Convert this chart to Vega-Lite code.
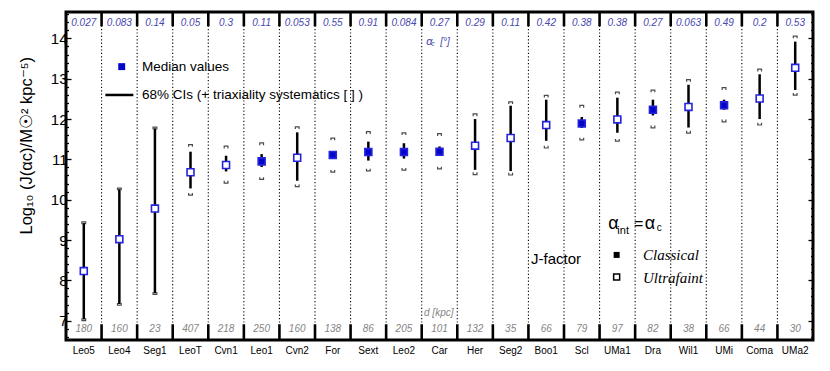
{
  "$schema": "https://vega.github.io/schema/vega-lite/v6.json",
  "width": 747,
  "height": 328,
  "autosize": {"type": "none"},
  "padding": {"left": 66, "top": 12, "right": 17, "bottom": 31},
  "config": {"view": {"stroke": "black", "strokeWidth": 3}, "font": "Liberation Sans"},
  "datasets": {
    "g": [
      {"name": "Leo5", "med": 8.23, "lo": 7.03, "hi": 9.42, "tlo": 7.03, "thi": 9.42, "type": "U", "ac": "0.027", "d": "180"},
      {"name": "Leo4", "med": 9.02, "lo": 7.41, "hi": 10.26, "tlo": 7.41, "thi": 10.26, "type": "U", "ac": "0.083", "d": "160"},
      {"name": "Seg1", "med": 9.78, "lo": 7.68, "hi": 11.77, "tlo": 7.68, "thi": 11.77, "type": "U", "ac": "0.14", "d": "23"},
      {"name": "LeoT", "med": 10.68, "lo": 10.28, "hi": 11.19, "tlo": 10.14, "thi": 11.34, "type": "U", "ac": "0.05", "d": "407"},
      {"name": "Cvn1", "med": 10.86, "lo": 10.70, "hi": 11.09, "tlo": 10.44, "thi": 11.30, "type": "U", "ac": "0.3", "d": "218"},
      {"name": "Leo1", "med": 10.95, "lo": 10.81, "hi": 11.13, "tlo": 10.53, "thi": 11.38, "type": "C", "ac": "0.11", "d": "250"},
      {"name": "Cvn2", "med": 11.04, "lo": 10.47, "hi": 11.67, "tlo": 10.35, "thi": 11.78, "type": "U", "ac": "0.053", "d": "160"},
      {"name": "For", "med": 11.11, "lo": 11.07, "hi": 11.15, "tlo": 10.71, "thi": 11.50, "type": "C", "ac": "0.55", "d": "138"},
      {"name": "Sext", "med": 11.18, "lo": 10.97, "hi": 11.44, "tlo": 10.74, "thi": 11.66, "type": "C", "ac": "0.91", "d": "86"},
      {"name": "Leo2", "med": 11.18, "lo": 11.02, "hi": 11.40, "tlo": 10.76, "thi": 11.63, "type": "C", "ac": "0.084", "d": "205"},
      {"name": "Car", "med": 11.19, "lo": 11.09, "hi": 11.32, "tlo": 10.79, "thi": 11.61, "type": "C", "ac": "0.27", "d": "101"},
      {"name": "Her", "med": 11.34, "lo": 10.74, "hi": 12.00, "tlo": 10.65, "thi": 12.10, "type": "U", "ac": "0.29", "d": "132"},
      {"name": "Seg2", "med": 11.53, "lo": 10.71, "hi": 12.33, "tlo": 10.64, "thi": 12.40, "type": "U", "ac": "0.11", "d": "35"},
      {"name": "Boo1", "med": 11.85, "lo": 11.46, "hi": 12.48, "tlo": 11.31, "thi": 12.56, "type": "U", "ac": "0.42", "d": "66"},
      {"name": "Scl", "med": 11.89, "lo": 11.78, "hi": 12.05, "tlo": 11.51, "thi": 12.31, "type": "C", "ac": "0.38", "d": "79"},
      {"name": "UMa1", "med": 11.99, "lo": 11.66, "hi": 12.53, "tlo": 11.48, "thi": 12.64, "type": "U", "ac": "0.38", "d": "97"},
      {"name": "Dra", "med": 12.23, "lo": 12.09, "hi": 12.48, "tlo": 11.81, "thi": 12.69, "type": "C", "ac": "0.27", "d": "82"},
      {"name": "Wil1", "med": 12.30, "lo": 11.79, "hi": 12.85, "tlo": 11.68, "thi": 12.95, "type": "U", "ac": "0.063", "d": "38"},
      {"name": "UMi", "med": 12.34, "lo": 12.23, "hi": 12.48, "tlo": 11.96, "thi": 12.75, "type": "C", "ac": "0.49", "d": "66"},
      {"name": "Coma", "med": 12.51, "lo": 12.00, "hi": 13.11, "tlo": 11.88, "thi": 13.21, "type": "U", "ac": "0.2", "d": "44"},
      {"name": "UMa2", "med": 13.27, "lo": 12.72, "hi": 13.92, "tlo": 12.62, "thi": 14.03, "type": "U", "ac": "0.53", "d": "30"}
    ]
  },
  "data": {"name": "g"},
  "resolve": {"axis": {"y": "independent"}},
  "layer": [
    {
      "transform": [{"filter": "datum.name !== 'Leo5'"}],
      "mark": {"type": "rule", "strokeDash": [1.2, 2.2], "strokeWidth": 1.1, "color": "black"},
      "encoding": {
        "x": {
          "field": "name", "type": "nominal", "bandPosition": 0, "sort": null,
          "scale": {"type": "band", "paddingInner": 0, "paddingOuter": 0,
            "domain": ["Leo5","Leo4","Seg1","LeoT","Cvn1","Leo1","Cvn2","For","Sext","Leo2","Car","Her","Seg2","Boo1","Scl","UMa1","Dra","Wil1","UMi","Coma","UMa2"]},
          "axis": {"title": null, "ticks": false, "domain": false, "labelAngle": 0, "labelFontSize": 10, "labelPadding": 5, "labelColor": "black", "labelFont": "Liberation Sans"}
        }
      }
    },
    {
      "transform": [{"filter": "datum.name !== 'Leo5'"}],
      "mark": {"type": "rule", "strokeWidth": 2.6, "color": "black"},
      "encoding": {
        "x": {"field": "name", "type": "nominal", "bandPosition": 0},
        "y": {"datum": 14.655, "type": "quantitative",
          "axis": {"orient": "right", "title": null, "labels": false, "domain": false, "grid": false,
            "values": [6.6,6.8,7,7.2,7.4,7.6,7.8,8,8.2,8.4,8.6,8.8,9,9.2,9.4,9.6,9.8,10,10.2,10.4,10.6,10.8,11,11.2,11.4,11.6,11.8,12,12.2,12.4,12.6,12.8,13,13.2,13.4,13.6,13.8,14,14.2,14.4,14.6],
            "tickColor": "black", "tickWidth": 1.3,
            "tickSize": {"condition": {"test": "abs(datum.value - round(datum.value)) < 0.01", "value": -5}, "value": -2.5}}},
        "y2": {"datum": 14.3}
      }
    },
    {
      "transform": [{"filter": "datum.name !== 'Leo5'"}],
      "mark": {"type": "rule", "strokeWidth": 2.6, "color": "black"},
      "encoding": {
        "x": {"field": "name", "type": "nominal", "bandPosition": 0},
        "y": {"datum": 6.52, "type": "quantitative", "axis": null},
        "y2": {"datum": 6.91}
      }
    },
    {
      "mark": {"type": "rule", "strokeWidth": 2.5, "color": "black"},
      "encoding": {
        "x": {"field": "name", "type": "nominal"},
        "y": {"field": "lo", "type": "quantitative",
          "scale": {"domain": [6.52, 14.655], "nice": false, "zero": false},
          "axis": {"orient": "left", "title": "Log₁₀ (J(αc)/M☉² kpc⁻⁵)", "domain": false, "grid": false,
            "values": [6.6,6.8,7,7.2,7.4,7.6,7.8,8,8.2,8.4,8.6,8.8,9,9.2,9.4,9.6,9.8,10,10.2,10.4,10.6,10.8,11,11.2,11.4,11.6,11.8,12,12.2,12.4,12.6,12.8,13,13.2,13.4,13.6,13.8,14,14.2,14.4,14.6],
            "labelExpr": "abs(datum.value - round(datum.value)) < 0.01 ? format(datum.value, 'd') : ''",
            "tickColor": "black", "tickWidth": 1.3,
            "tickSize": {"condition": {"test": "abs(datum.value - round(datum.value)) < 0.01", "value": -5}, "value": -2.5},
            "labelFontSize": 15, "labelColor": "black", "labelPadding": 4, "labelFont": "Liberation Sans",
            "titleFontSize": 16.5, "titleFontWeight": "normal", "titleColor": "black", "titleFont": "Liberation Sans",
            "titleAnchor": "start", "titleAlign": "left", "titleY": 222, "titlePadding": 16}},
        "y2": {"field": "hi"}
      }
    },
    {
      "mark": {"type": "point", "shape": "M -1 0.6 L -1 -0.6 L 1 -0.6 L 1 0.6", "size": 14, "filled": false, "stroke": "black", "strokeWidth": 1.2},
      "encoding": {
        "x": {"field": "name", "type": "nominal"},
        "y": {"field": "thi", "type": "quantitative", "axis": null}
      }
    },
    {
      "mark": {"type": "point", "shape": "M -1 -0.6 L -1 0.6 L 1 0.6 L 1 -0.6", "size": 14, "filled": false, "stroke": "black", "strokeWidth": 1.2},
      "encoding": {
        "x": {"field": "name", "type": "nominal"},
        "y": {"field": "tlo", "type": "quantitative", "axis": null}
      }
    },
    {
      "mark": {"type": "point", "shape": "square", "size": 48, "filled": true, "stroke": "#2424dc", "strokeWidth": 1.6, "opacity": 1},
      "encoding": {
        "x": {"field": "name", "type": "nominal"},
        "y": {"field": "med", "type": "quantitative", "axis": null},
        "fill": {"field": "type", "type": "nominal", "scale": {"domain": ["C", "U"], "range": ["#0505c8", "#ffffff"]}, "legend": null}
      }
    },
    {
      "mark": {"type": "text", "fontSize": 10, "fontStyle": "italic", "color": "#4848b0", "baseline": "middle", "font": "Liberation Sans"},
      "encoding": {
        "x": {"field": "name", "type": "nominal"},
        "y": {"datum": 14.376, "type": "quantitative", "axis": null},
        "text": {"field": "ac", "type": "nominal"}
      }
    },
    {
      "mark": {"type": "text", "fontSize": 10, "fontStyle": "italic", "color": "#858585", "baseline": "middle", "font": "Liberation Sans"},
      "encoding": {
        "x": {"field": "name", "type": "nominal"},
        "y": {"datum": 6.787, "type": "quantitative", "axis": null},
        "text": {"field": "d", "type": "nominal"}
      }
    },
    {
      "data": {"values": [{}]},
      "mark": {"type": "point", "shape": "square", "size": 48, "filled": true, "color": "#0505c8", "opacity": 1},
      "encoding": {
        "x": {"datum": "Leo4", "bandPosition": 0.566},
        "y": {"datum": 13.30, "type": "quantitative", "axis": null}
      }
    },
    {
      "data": {"values": [{}]},
      "mark": {"type": "tick", "orient": "horizontal", "size": 28, "thickness": 2.5, "color": "black", "opacity": 1},
      "encoding": {
        "x": {"datum": "Leo4", "bandPosition": 0.55},
        "y": {"datum": 12.597, "type": "quantitative", "axis": null}
      }
    },
    {
      "data": {"values": [{}]},
      "mark": {"type": "text", "text": "Median values", "fontSize": 13.5, "align": "left", "baseline": "middle", "color": "black"},
      "encoding": {
        "x": {"datum": "Seg1", "bandPosition": 0.137},
        "y": {"datum": 13.30, "type": "quantitative", "axis": null}
      }
    },
    {
      "data": {"values": [{}]},
      "mark": {"type": "text", "text": "68% CIs (+ triaxiality systematics [ ] )", "fontSize": 13.5, "align": "left", "baseline": "middle", "color": "black"},
      "encoding": {
        "x": {"datum": "Seg1", "bandPosition": 0.137},
        "y": {"datum": 12.597, "type": "quantitative", "axis": null}
      }
    },
    {
      "data": {"values": [{}]},
      "mark": {"type": "text", "text": "α", "fontSize": 11, "fontStyle": "italic", "align": "left", "baseline": "middle", "color": "#4848b0"},
      "encoding": {
        "x": {"datum": "Car", "bandPosition": 0.13},
        "y": {"datum": 13.92, "type": "quantitative", "axis": null}
      }
    },
    {
      "data": {"values": [{}]},
      "mark": {"type": "text", "text": "c", "fontSize": 7, "fontStyle": "italic", "align": "left", "baseline": "middle", "color": "#4848b0"},
      "encoding": {
        "x": {"datum": "Car", "bandPosition": 0.27},
        "y": {"datum": 13.86, "type": "quantitative", "axis": null}
      }
    },
    {
      "data": {"values": [{}]},
      "mark": {"type": "text", "text": "[°]", "fontSize": 10, "fontStyle": "italic", "align": "left", "baseline": "middle", "color": "#4848b0"},
      "encoding": {
        "x": {"datum": "Car", "bandPosition": 0.52},
        "y": {"datum": 13.92, "type": "quantitative", "axis": null}
      }
    },
    {
      "data": {"values": [{}]},
      "mark": {"type": "text", "text": "d [kpc]", "fontSize": 10, "fontStyle": "italic", "align": "left", "baseline": "middle", "color": "#858585"},
      "encoding": {
        "x": {"datum": "Car", "bandPosition": 0.065},
        "y": {"datum": 7.18, "type": "quantitative", "axis": null}
      }
    },
    {
      "data": {"values": [{}]},
      "mark": {"type": "text", "text": "J-factor", "fontSize": 15, "align": "left", "baseline": "middle", "color": "black"},
      "encoding": {
        "x": {"datum": "Boo1", "bandPosition": 0.073},
        "y": {"datum": 8.52, "type": "quantitative", "axis": null}
      }
    },
    {
      "data": {"values": [{}]},
      "mark": {"type": "text", "text": "α", "fontSize": 18, "align": "left", "baseline": "middle", "color": "black"},
      "encoding": {
        "x": {"datum": "UMa1", "bandPosition": 0.245},
        "y": {"datum": 9.40, "type": "quantitative", "axis": null}
      }
    },
    {
      "data": {"values": [{}]},
      "mark": {"type": "text", "text": "int", "fontSize": 11, "align": "left", "baseline": "middle", "color": "black"},
      "encoding": {
        "x": {"datum": "UMa1", "bandPosition": 0.5},
        "y": {"datum": 9.23, "type": "quantitative", "axis": null}
      }
    },
    {
      "data": {"values": [{}]},
      "mark": {"type": "text", "text": "=", "fontSize": 16, "align": "left", "baseline": "middle", "color": "black"},
      "encoding": {
        "x": {"datum": "UMa1", "bandPosition": 0.97},
        "y": {"datum": 9.40, "type": "quantitative", "axis": null}
      }
    },
    {
      "data": {"values": [{}]},
      "mark": {"type": "text", "text": "α", "fontSize": 18, "align": "left", "baseline": "middle", "color": "black"},
      "encoding": {
        "x": {"datum": "Dra", "bandPosition": 0.27},
        "y": {"datum": 9.40, "type": "quantitative", "axis": null}
      }
    },
    {
      "data": {"values": [{}]},
      "mark": {"type": "text", "text": "c", "fontSize": 10, "align": "left", "baseline": "middle", "color": "black"},
      "encoding": {
        "x": {"datum": "Dra", "bandPosition": 0.61},
        "y": {"datum": 9.29, "type": "quantitative", "axis": null}
      }
    },
    {
      "data": {"values": [{}]},
      "mark": {"type": "point", "shape": "square", "size": 36, "filled": true, "color": "black", "opacity": 1},
      "encoding": {
        "x": {"datum": "UMa1", "bandPosition": 0.48},
        "y": {"datum": 8.63, "type": "quantitative", "axis": null}
      }
    },
    {
      "data": {"values": [{}]},
      "mark": {"type": "point", "shape": "square", "size": 36, "filled": false, "stroke": "black", "strokeWidth": 1.5, "opacity": 1},
      "encoding": {
        "x": {"datum": "UMa1", "bandPosition": 0.48},
        "y": {"datum": 8.08, "type": "quantitative", "axis": null}
      }
    },
    {
      "data": {"values": [{}]},
      "mark": {"type": "text", "text": "Classical", "fontSize": 15, "font": "Liberation Serif", "fontStyle": "italic", "align": "left", "baseline": "middle", "color": "black"},
      "encoding": {
        "x": {"datum": "Dra", "bandPosition": 0.22},
        "y": {"datum": 8.63, "type": "quantitative", "axis": null}
      }
    },
    {
      "data": {"values": [{}]},
      "mark": {"type": "text", "text": "Ultrafaint", "fontSize": 15, "font": "Liberation Serif", "fontStyle": "italic", "align": "left", "baseline": "middle", "color": "black"},
      "encoding": {
        "x": {"datum": "Dra", "bandPosition": 0.22},
        "y": {"datum": 8.06, "type": "quantitative", "axis": null}
      }
    }
  ]
}
